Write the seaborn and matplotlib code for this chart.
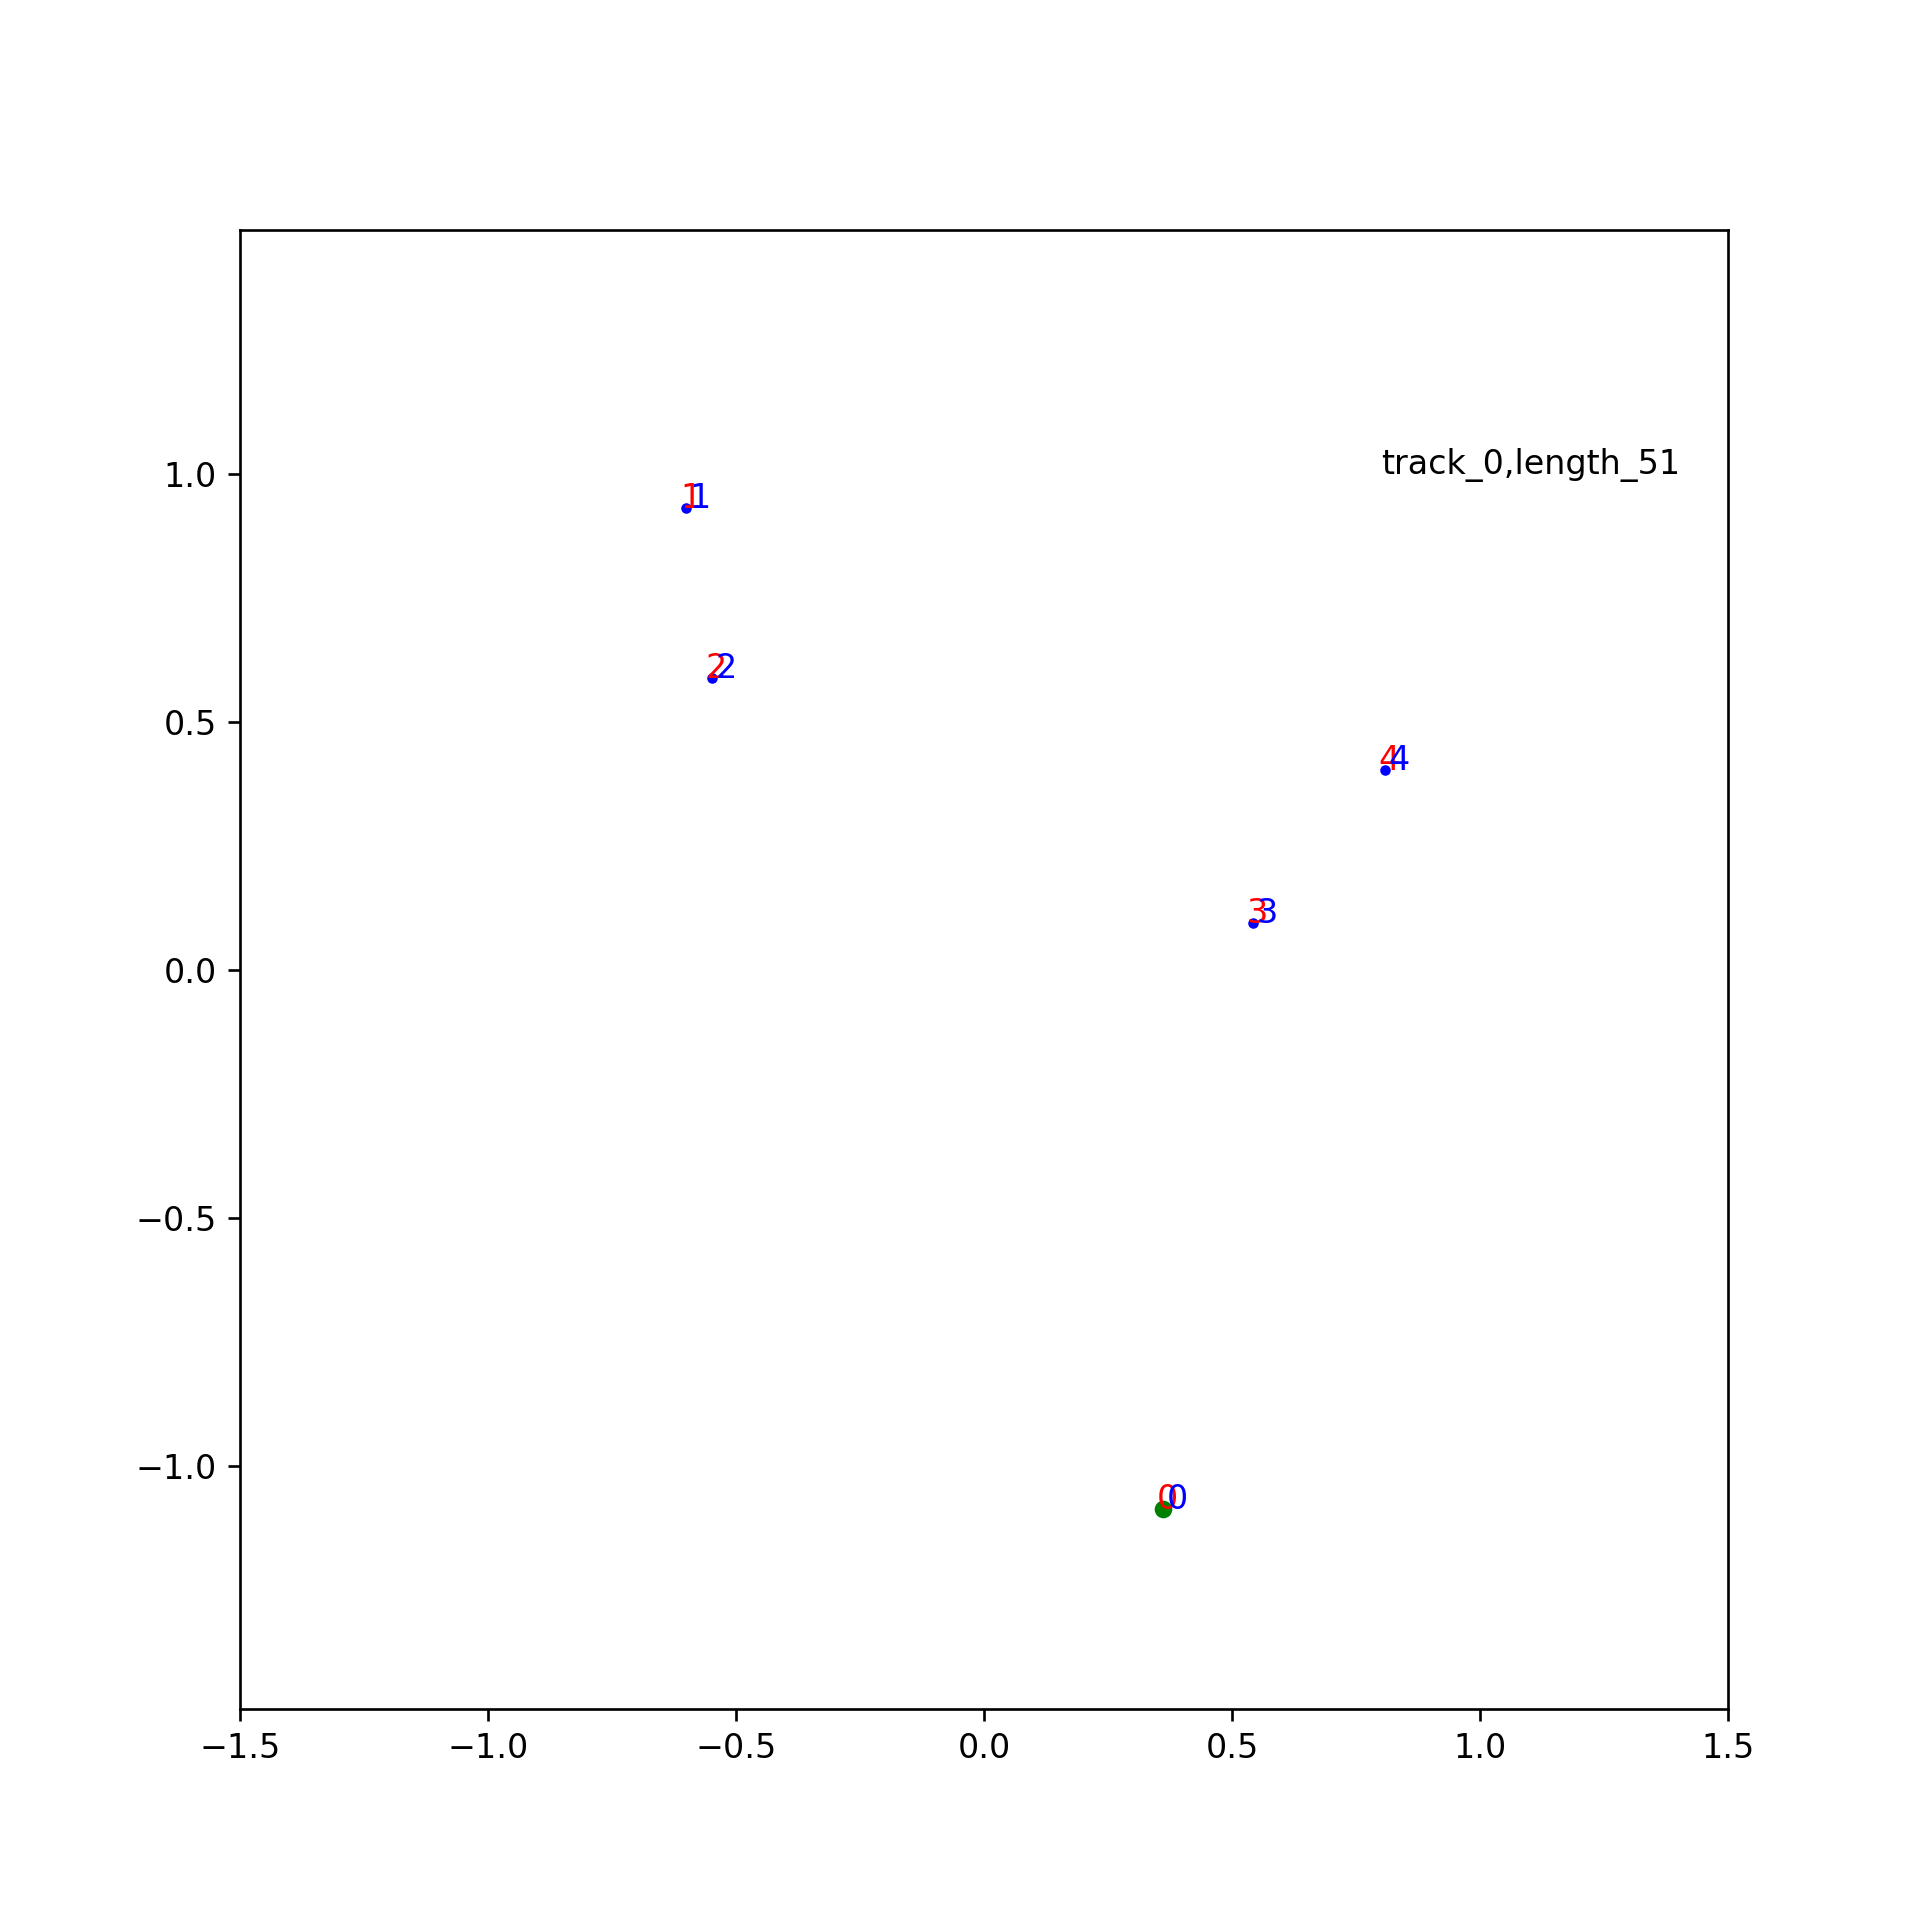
import numpy as np
import pandas as pd
import matplotlib
matplotlib.use("Agg")
import matplotlib.pyplot as plt
import seaborn as sns

# tracked points (frame of track_0)
point_ids = [0, 1, 2, 3, 4]
point_x = [0.361, -0.601, -0.549, 0.542, 0.808]
point_y = [-1.088, 0.931, 0.588, 0.094, 0.403]
track_label = "track_0,length_51"
label_pos = (0.8, 1.0)

df = pd.DataFrame({"id": point_ids, "x": point_x, "y": point_y})

fig, ax = plt.subplots(figsize=(8, 8), dpi=240)

# all points as small blue dots, the start point as a bigger green dot
sns.scatterplot(data=df, x="x", y="y", color="blue", s=10, linewidth=0, ax=ax)
sns.scatterplot(data=df[df["id"] == 0], x="x", y="y", color="green", s=28,
                linewidth=0, ax=ax, zorder=3)

# red and blue id labels, slightly shifted from each other
for i, x, y in zip(point_ids, point_x, point_y):
    ax.text(x - 0.012, y, str(i), color="red", fontsize=10)
    ax.text(x + 0.008, y, str(i), color="blue", fontsize=10)

ax.text(label_pos[0], label_pos[1], track_label, fontsize=10)

ax.set_xlim(-1.5, 1.5)
ax.set_ylim(-1.5, 1.5)
ax.set_aspect("equal", adjustable="datalim")
ax.set_xlabel("")
ax.set_ylabel("")

plt.savefig("out.png", dpi=240)
plt.close()
